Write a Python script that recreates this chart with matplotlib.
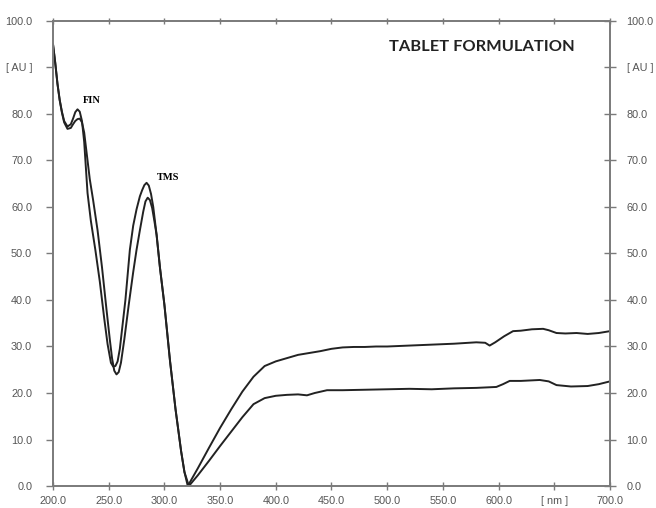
import matplotlib.pyplot as plt

# upper trace (ends near 33 AU)
wl_a = [200, 202, 204, 206, 208, 210, 213, 216, 218, 220, 222, 224, 226, 228,
        231, 234, 238, 242, 246, 249, 252, 254, 256, 258, 260, 265, 269, 272,
        275, 278, 280, 282, 284, 286, 288, 290, 293, 296, 300, 305, 310, 315,
        318, 321, 330, 340, 350, 360, 370, 380, 390, 400, 410, 420, 430, 440,
        450, 460, 470, 480, 490, 500, 520, 540, 560, 580, 588, 592, 597, 605,
        613, 620, 630, 640, 645, 652, 660, 670, 680, 690, 700]
abs_a = [95, 91, 86.5, 83, 80.5, 78.5, 77.3, 77.8, 79, 80.4, 81, 80.5, 78.5, 74,
         63, 57, 50.8, 44, 36, 30.5, 26.5, 25.7, 25.8, 26.8, 29.5, 40, 50.8, 56,
         59.5, 62.3, 63.6, 64.7, 65.2, 64.6, 62.8, 60, 54, 47, 39, 27, 16.5, 7.5,
         3, 0, 3.8, 8.2, 12.5, 16.5, 20.3, 23.5, 25.8, 26.8, 27.5, 28.2, 28.6, 29,
         29.5, 29.8, 29.9, 29.9, 30, 30, 30.2, 30.4, 30.6, 30.9, 30.8, 30.2, 30.9, 32.2,
         33.3, 33.4, 33.7, 33.8, 33.5, 32.9, 32.8, 32.9, 32.7, 32.9, 33.3]

# lower trace (ends near 22 AU)
wl_b = [200, 202, 204, 206, 208, 210, 213, 216, 218, 220, 222, 224, 226, 228,
        230, 233, 236, 240, 244, 248, 251, 253, 255, 257, 259, 261, 264, 268,
        272, 275, 278, 281, 283, 285, 287, 289, 291, 293, 296, 300, 305, 310,
        315, 318, 322, 330, 340, 350, 360, 370, 380, 390, 400, 410, 420, 428,
        435, 446, 460, 480, 500, 520, 540, 560, 580, 598, 604, 610, 620, 637,
        645, 652, 665, 680, 690, 700]
abs_b = [95, 91, 86.5, 83, 80.3, 78.2, 76.8, 77, 77.8, 78.5, 78.9, 79, 78.2, 76,
         72, 66, 61.5, 55, 47, 38, 31.5, 27.5, 24.8, 24, 24.5, 26.5, 31.5, 39,
         46, 50.8, 55, 59, 61.2, 62, 61.5, 59.8, 57, 54, 47, 39, 27, 16.5,
         7.5, 3, 0, 2.3, 5.4, 8.6, 11.7, 14.8, 17.6, 18.9, 19.4, 19.6, 19.7, 19.5,
         20, 20.6, 20.6, 20.7, 20.8, 20.9, 20.8, 21, 21.1, 21.3, 21.9, 22.6, 22.6, 22.8,
         22.5, 21.7, 21.4, 21.5, 21.9, 22.5]

x_ticks = [200, 250, 300, 350, 400, 450, 500, 550, 600, 650, 700]
x_labels = ['200.0', '250.0', '300.0', '350.0', '400.0', '450.0', '500.0',
            '550.0', '600.0', '[ nm ]', '700.0']
y_ticks = [0, 10, 20, 30, 40, 50, 60, 70, 80, 90, 100]
y_labels = ['0.0', '10.0', '20.0', '30.0', '40.0', '50.0', '60.0', '70.0',
            '80.0', '[ AU ]', '100.0']

plt.rcParams['font.family'] = ['Liberation Sans', 'DejaVu Sans']

fig = plt.figure(figsize=(6.56, 5.08), dpi=100)
ax = fig.add_axes([0.0808, 0.0433, 0.849, 0.9154])

ax.plot(wl_a, abs_a, color='#222222', lw=1.4)
ax.plot(wl_b, abs_b, color='#222222', lw=1.4)

ax.set_xlim(200, 700)
ax.set_ylim(0, 100)

for s in ax.spines.values():
    s.set_color('#7a7a7a')
    s.set_linewidth(1.4)

ax.set_xticks(x_ticks)
ax.set_xticklabels(x_labels)
ax.set_yticks(y_ticks)
ax.set_yticklabels(y_labels)
ax.tick_params(axis='x', direction='inout', length=6, width=1, color='#7a7a7a',
               labelsize=7.8, labelcolor='#555555', pad=4, top=True)
ax.tick_params(axis='y', direction='out', length=5, width=1, color='#7a7a7a',
               labelsize=7.8, labelcolor='#555555', pad=10)

# right-hand scale, ticks crossing the spine
ax2 = ax.twinx()
ax2.set_ylim(0, 100)
ax2.set_yticks(y_ticks)
ax2.set_yticklabels(y_labels)
ax2.tick_params(axis='y', direction='inout', length=8, width=1, color='#7a7a7a',
                labelsize=7.8, labelcolor='#555555', pad=8)
for s in ax2.spines.values():
    s.set_visible(False)

for t in ax.xaxis.get_major_ticks():
    t.tick2line.set_marker('|')
    t.tick2line.set_markersize(5)

ax.text(227, 83, 'FIN', fontsize=7.5, fontweight='bold', family='Liberation Serif',
        va='center')
ax.text(293.5, 66.4, 'TMS', fontsize=7.5, fontweight='bold', family='Liberation Serif',
        va='center')
ax.text(668.5, 94.5, 'TABLET FORMULATION', fontsize=11.8, fontweight='bold',
        family='Lato', ha='right', va='center', color='#222222')

fig.savefig('out.png', dpi=100)
